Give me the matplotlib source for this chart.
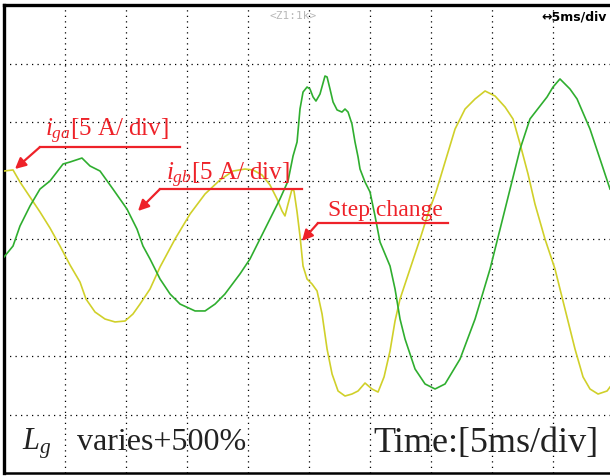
import matplotlib
matplotlib.use("Agg")
import matplotlib.pyplot as plt
from matplotlib.lines import Line2D
from matplotlib.patches import FancyArrowPatch

plt.rcParams['mathtext.fontset'] = 'custom'
plt.rcParams['mathtext.rm'] = 'Liberation Serif'
plt.rcParams['mathtext.it'] = 'Liberation Serif:italic'

# ---- data: time (ms) and current (A) ----
t_ga = [0, 0.74, 1.31, 2.13, 2.95, 3.77, 4.59, 5.41, 6.23, 6.72, 7.46, 8.28, 9.10, 9.92,
        10.57, 11.15, 11.97, 12.79, 14.02, 15.25, 16.48, 17.70, 18.77, 19.75, 20.41, 21.15,
        21.80, 22.38, 22.79, 23.03, 23.28, 23.61, 23.77, 24.02, 24.26, 24.51, 24.84, 25.25,
        25.66, 26.07, 26.48, 26.89, 27.38, 27.95, 28.52, 29.02, 29.59, 30.16, 30.66, 31.15,
        31.64, 32.05, 32.46, 33.28, 34.10, 34.75, 35.41, 36.15, 36.97, 37.79, 38.61, 39.43,
        40.25, 41.07, 41.72, 42.30, 42.95, 43.52, 44.34, 45.16, 45.98, 46.80, 47.46, 48.03,
        48.69, 49.43, 49.67]
i_ga = [5.81, 5.90, 4.87, 3.59, 2.31, 0.94, -0.60, -2.22, -3.68, -5.13, -6.24, -6.84, -7.09, -7.01,
        -6.41, -5.56, -4.27, -2.39, 0.0, 2.14, 3.85, 5.04, 5.81, 5.98, 5.90, 5.47,
        4.62, 3.42, 2.39, 1.97, 2.99, 4.27, 4.10, 2.31, 0.26, -2.31, -3.42, -3.85,
        -4.44, -6.41, -9.40, -11.54, -12.99, -13.42, -13.25, -12.99, -12.31, -12.82, -13.08, -11.79,
        -9.57, -7.01, -5.13, -2.56, 0.0, 2.14, 4.02, 6.58, 9.40, 11.11, 11.97, 12.65,
        12.22, 11.28, 10.26, 8.12, 5.56, 2.99, 0.0, -2.56, -5.98, -9.40, -11.79, -12.82,
        -13.25, -12.99, -12.65]

t_gb = [0, 0.74, 1.31, 2.13, 2.95, 3.77, 4.34, 4.84, 5.41, 6.39, 7.05, 7.87, 8.93, 10.08,
        10.90, 11.39, 11.97, 12.79, 13.61, 14.43, 15.66, 16.48, 17.30, 18.11, 19.34, 20.16,
        20.98, 21.80, 22.62, 23.28, 23.69, 24.02, 24.26, 24.51, 24.84, 25.08, 25.33, 25.57,
        25.90, 26.31, 26.48, 26.72, 26.97, 27.30, 27.70, 27.95, 28.20, 28.52, 28.77, 29.02,
        29.18, 29.59, 30.00, 30.41, 30.82, 31.64, 32.05, 32.46, 32.87, 33.69, 34.51, 35.33,
        36.15, 37.38, 38.61, 39.84, 40.66, 41.48, 42.30, 43.11, 44.51, 45.00, 45.57, 46.39,
        46.97, 48.03, 48.85, 49.67]
i_gb = [-1.54, -0.60, 1.11, 2.82, 4.27, 4.96, 5.73, 6.41, 6.58, 6.92, 6.24, 5.81, 4.27, 2.56,
        0.85, -0.60, -1.71, -3.42, -4.70, -5.56, -6.15, -6.15, -5.56, -4.70, -2.99, -1.71,
        0.0, 1.71, 3.42, 4.96, 7.09, 8.29, 11.11, 12.56, 12.99, 12.82, 12.14, 11.79,
        12.39, 13.93, 13.85, 12.82, 11.71, 11.03, 10.85, 11.11, 10.85, 9.83, 8.29, 7.01,
        5.98, 4.87, 4.02, 1.97, -0.26, -2.31, -4.27, -6.84, -8.55, -11.11, -12.39, -12.82,
        -12.39, -10.26, -6.84, -2.56, 0.85, 4.27, 7.69, 10.26, 12.14, 12.99, 13.68, 12.82,
        11.97, 9.40, 6.84, 4.27]

t_grid = [5, 10, 15, 20, 25, 30, 35, 40, 45]
i_grid = [-15, -10, -5, 0, 5, 10, 15]

W, H = 610, 477
fig = plt.figure(figsize=(W / 100, H / 100), dpi=100)
ax = fig.add_axes([4 / W, 3 / H, 606 / W, 468 / H])
ax.set_xlim(0, 49.67)
ax.set_ylim(-20, 20)
ax.set_xticks(t_grid)
ax.set_yticks(i_grid)
ax.tick_params(length=0, labelbottom=False, labelleft=False)
ax.grid(True, color='black', linestyle=(0, (1.0, 3.4)), linewidth=0.9)
ax.spines['right'].set_visible(False)
ax.spines['top'].set_linewidth(2.4)
ax.spines['left'].set_linewidth(2.4)
ax.spines['bottom'].set_linewidth(1.8)

ax.plot(t_ga, i_ga, color='#d0d02a', lw=1.2, zorder=3)
ax.plot(t_gb, i_gb, color='#2fae2f', lw=1.2, zorder=3)


def F(x, y):
    return (x / W, 1 - y / H)


red = '#ee2229'


def callout(x0, x1, y, tip):
    fig.add_artist(Line2D([x0 / W, x1 / W], [1 - y / H, 1 - y / H], color=red, lw=1.6,
                          transform=fig.transFigure))
    fig.add_artist(FancyArrowPatch(F(x0, y), F(*tip), transform=fig.transFigure,
                                   arrowstyle='-|>', mutation_scale=16, color=red, lw=1.6,
                                   shrinkA=0, shrinkB=0))


callout(40, 180, 148, (15, 170))
callout(160, 302, 190, (138, 212))
callout(318, 448, 224, (302, 242))

serif = 'Liberation Serif'
fig.text(*F(45, 136), r'$i_{ga}$[5 A/ div]', color=red, fontsize=18, family=serif,
         ha='left', va='baseline')
fig.text(*F(166, 180), r'$i_{gb}$[5 A/ div]', color=red, fontsize=18, family=serif,
         ha='left', va='baseline')
fig.text(*F(328, 216), 'Step change', color=red, fontsize=17, family=serif,
         ha='left', va='baseline')

fig.text(*F(22, 450), r'$L_g$', color='#222222', fontsize=22, family=serif,
         ha='left', va='baseline')
fig.text(*F(77, 450), 'varies+500%', color='#222222', fontsize=23, family=serif,
         ha='left', va='baseline')
fig.text(*F(373, 452), 'Time:[5ms/div]', color='#222222', fontsize=26, family=serif,
         ha='left', va='baseline')

fig.text(*F(270, 19), '<Z1:1k>', color='#b8b8b8', fontsize=8, family='DejaVu Sans Mono',
         ha='left', va='baseline')
fig.text(*F(607, 21), '↔5ms/div', color='black', fontsize=9, family='DejaVu Sans',
         weight='bold', ha='right', va='baseline')

fig.savefig('out.png', dpi=100)
